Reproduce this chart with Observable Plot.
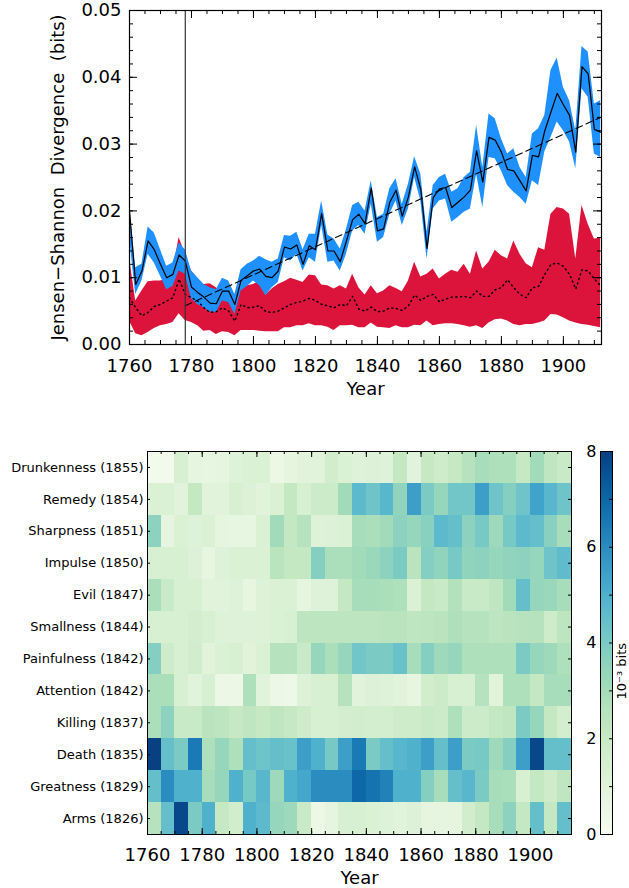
<!DOCTYPE html>
<html><head><meta charset="utf-8">
<script src="https://cdn.jsdelivr.net/npm/d3@7"></script>
<script src="https://cdn.jsdelivr.net/npm/@observablehq/plot@0.6"></script>
<style>
body{margin:0;background:#fff;}
#wrap{position:relative;width:629px;height:888px;overflow:hidden;background:#fff;}
#wrap svg{position:absolute;overflow:visible;}
</style></head><body><div id="wrap"></div>
<script>
// ---------- Top panel: Jensen-Shannon divergence (values in 10^-3 bits) ----------
const years = [
 1760,1762,1764,1766,1768,1770,1772,1774,1776,1778,
 1780,1782,1784,1786,1788,1790,1792,1794,1796,1798,
 1800,1802,1804,1806,1808,1810,1812,1814,1816,1818,
 1820,1822,1824,1826,1828,1830,1832,1834,1836,1838,
 1840,1842,1844,1846,1848,1850,1852,1854,1856,1858,
 1860,1862,1864,1866,1868,1870,1872,1874,1876,1878,
 1880,1882,1884,1886,1888,1890,1892,1894,1896,1898,
 1900,1902,1904,1906,1908,1910,1912];
const meanJSD = [
 20.0,9.0,11.0,15.5,14.2,12.0,10.0,10.5,13.4,12.5,
 8.6,7.8,7.1,6.2,6.1,8.0,8.0,6.0,9.6,10.3,
 11.0,11.3,10.2,10.0,11.0,14.6,14.3,14.9,12.0,14.8,
 14.2,19.6,14.0,14.0,12.4,15.5,18.7,19.5,18.1,23.4,
 17.0,17.3,21.3,23.1,19.2,22.1,26.6,23.2,14.4,22.0,
 23.3,23.5,20.5,21.3,22.1,23.1,29.0,24.3,31.0,30.6,
 28.8,26.2,26.0,24.5,23.0,28.3,28.1,32.0,34.8,37.6,
 35.9,34.3,28.8,41.6,40.5,32.2,31.8];
const blueHi = [
 21,11.5,12,17.6,16.7,14.2,11.7,12.2,15.2,14.2,
 11,10,9,8.5,8.2,9.9,9.5,7.5,11.2,12,
 12.5,13.2,12.7,12.3,12.8,16.3,16.2,16.8,14.2,16.5,
 16.5,21.5,16.4,15.8,14.3,17.2,20.8,21.3,20,24.5,
 19,19.5,23.3,24.8,21,24,28.1,25.5,16.8,23.8,
 25,25.5,22.8,23.3,25,25.8,32.8,26.5,34.5,33.8,
 30.8,28.5,29.3,26.5,25,31.5,32.3,34.3,41,42.9,
 38.5,36.5,32,44.6,43.8,36,36.5];
const blueLo = [
 16,7.5,9.5,13.5,12.2,10.2,8.2,8.7,11,10.5,
 6.8,6,5.5,4.9,4.8,6.5,6.3,4.5,8,8.7,
 9.5,8.8,7.3,8.5,9.3,13,12.5,13.5,11,13,
 12.3,17.8,12.3,12.5,11,13.5,17,17.8,16.5,21,
 15.3,16,19.5,21.5,17.8,20.3,25,21.5,12.8,20.3,
 21.5,21.8,18.3,19,19.8,20.3,25.5,20.5,28,27.8,
 26,23.8,22.8,22,21,24.5,23.8,28.8,31,33.3,
 32,30.3,26.3,38.3,37,28.5,28];
const redHi = [
 13,6.5,8,9.4,9.5,9.5,9.8,11,16,13.5,
 11,9.9,9,9.1,8.5,7.5,6.8,6,8.5,8.8,
 9,9.4,7.4,8.3,9,9.4,9.9,9.6,9.3,10.4,
 10.3,8.9,8.8,8.3,8.8,8.3,10.5,8.5,7.4,8.8,
 7.6,8,8.8,8.4,7.9,9.5,12.3,10.1,10.5,11.3,
 9.8,10.5,11.1,10.8,12,10.5,14,11.3,12.3,14.1,
 13.3,12.8,15.5,13.5,12.1,11.5,14.5,14.1,19.5,20.5,
 20.3,19.5,12.8,20.8,18,15.8,15.9];
const redLo = [
 3.5,1.6,1.3,1.8,2.4,2.8,3,3.3,4.6,3.6,
 3.3,2.8,2,2.1,1.5,1.9,1.8,1.3,2.1,2.1,
 2.1,2,1.9,1.9,1.9,2.5,2.5,2.8,2.8,3.1,
 2.8,2.8,2.6,2.1,2.8,2.8,2.9,2.5,2.5,3.2,
 2.6,2.5,2.4,2.8,2.5,2.5,2.9,2.8,3.5,2.8,
 3,3.1,3.1,3,2.8,2.6,2.8,2.4,3.2,3.7,
 3.8,3.5,3,2.8,3,3,3.2,3.5,4.5,4.4,
 4,3.5,3.2,3,2.9,2.7,2.5];
const nullMean = [
 7,5.5,4.3,4.8,5.7,6,6.5,7,9.8,7.5,
 7,6.5,5.5,4.8,4.9,5.5,5,3.5,6,5.5,
 5.6,5.8,4.9,4.8,5,5.5,6,6.3,6.5,6.9,
 6.6,6,5.8,5.5,6,5.8,7.2,5.3,5,5.6,
 4.9,5,5.5,5.4,5.1,5.8,7.4,6.6,7.2,7.5,
 6.4,6.8,7.1,7.1,7.2,7,8,7.2,7.2,8.2,
 8.5,9.7,8.5,7.5,7,8.5,8.7,10.5,12,12.2,
 11.7,10.5,8.3,11.2,11,9.8,8.8];
const trendYears = [1778, 1912];
const trendValues = [0.0058, 0.0340];
const changeYear = 1778;
const topXTicks = [1760,1780,1800,1820,1840,1860,1880,1900];
const topYTicks = [0,0.01,0.02,0.03,0.04,0.05];

// ---------- Bottom panel: heatmap (10^-3 bits) ----------
const rowLabels = ["Drunkenness (1855)","Remedy (1854)","Sharpness (1851)","Impulse (1850)","Evil (1847)","Smallness (1844)","Painfulness (1842)","Attention (1842)","Killing (1837)","Death (1835)","Greatness (1829)","Arms (1826)"];
const binStarts = [1760,1765,1770,1775,1780,1785,1790,1795,1800,1805,1810,1815,1820,1825,1830,1835,1840,1845,1850,1855,1860,1865,1870,1875,1880,1885,1890,1895,1900,1905,1910];
const drunkenness = [0.2,0.2,1.4,0.8,0.7,0.8,1.1,1.3,1.3,0.5,0.8,1.0,1.0,1.7,1.3,1.1,1.2,1.1,2.2,1.0,2.1,1.8,2.1,2.6,3.0,2.8,2.8,2.1,3.1,2.3,2.0];
const remedy      = [1.3,1.3,1.0,2.2,1.0,1.0,1.4,1.2,1.0,1.3,2.2,1.4,1.9,1.9,3.1,4.7,4.3,4.8,3.5,5.5,4.0,3.4,4.2,4.2,5.5,4.3,3.8,4.3,5.4,4.8,4.3];
const sharpness   = [3.6,0.8,1.3,1.1,1.3,0.8,0.7,0.7,1.3,3.1,2.2,2.6,1.1,1.2,1.3,3.0,2.9,3.1,3.6,3.4,3.7,4.7,4.5,3.6,4.1,3.2,4.1,4.7,4.5,3.7,3.0];
const impulse     = [1.4,1.4,1.4,1.2,0.7,1.1,1.3,1.3,1.3,2.5,2.2,2.2,3.8,2.9,2.9,3.1,3.3,3.6,4.0,2.5,3.8,3.5,4.1,3.5,3.6,3.4,3.5,3.6,3.4,4.3,4.6];
const evil        = [2.9,2.0,1.4,1.4,1.0,1.0,1.1,0.7,1.1,1.3,1.3,0.8,1.1,1.1,2.2,3.0,3.0,2.9,2.8,1.3,2.2,2.0,2.7,2.0,2.0,2.3,3.1,4.5,3.4,3.3,3.0];
const smallness   = [1.4,1.4,1.4,1.6,1.4,1.1,1.1,1.1,1.1,1.3,1.4,2.4,2.4,2.4,2.4,2.4,2.4,2.5,2.5,2.3,2.4,2.5,2.8,2.6,2.6,2.4,2.5,2.6,2.6,1.8,2.4];
const painfulness = [3.8,1.8,1.4,1.7,1.0,1.3,1.4,1.0,1.3,2.6,2.6,2.0,3.4,2.9,3.4,4.2,4.0,4.0,4.4,3.0,3.8,3.2,3.4,2.8,2.8,2.8,2.8,4.0,3.4,3.2,2.8];
const attention   = [2.9,2.9,1.4,1.0,1.4,0.5,0.5,2.8,1.0,0.5,0.4,1.1,1.4,1.4,2.6,1.0,1.2,1.1,1.0,0.7,1.7,1.9,1.4,1.4,2.6,1.0,2.8,2.8,2.2,3.0,3.0];
const killing     = [2.9,3.6,2.0,2.0,2.5,2.4,2.1,2.3,2.1,2.3,2.1,1.8,1.4,1.4,1.6,1.7,1.6,1.6,1.8,1.8,2.0,1.9,2.8,1.9,1.9,2.2,2.3,4.0,3.4,2.2,1.6];
const death       = [8.0,4.5,4.0,6.5,2.8,3.4,2.8,4.5,4.3,4.5,4.4,5.5,5.0,4.1,5.5,6.5,4.0,4.5,4.8,5.0,5.5,4.5,5.5,4.0,4.1,3.2,3.8,5.5,7.8,4.5,4.5];
const greatness   = [4.5,6.0,5.0,5.0,3.0,3.4,5.0,4.1,4.8,3.2,5.0,5.3,6.0,6.0,6.0,7.0,6.7,6.3,5.0,5.0,3.8,3.0,4.5,4.8,4.0,3.0,2.9,1.4,2.2,1.8,2.3];
const arms        = [2.6,4.5,7.8,4.0,5.0,2.1,1.7,5.0,4.7,3.4,3.2,2.0,0.5,0.8,1.4,1.4,1.3,1.1,1.0,1.2,0.8,0.8,0.8,1.7,2.2,3.0,3.6,2.2,4.5,2.2,4.5];
const heatXTicks = [1760,1780,1800,1820,1840,1860,1880,1900];
const colorbarTicks = [0,2,4,6,8];
const colorbarMinor = [0,1,2,3,4,5,6,7,8];

// ---------- build ----------
const FONT = "'DejaVu Sans', sans-serif";
const S = 1e-3;
const series = years.map((y, i) => ({
  year: y, mean: meanJSD[i]*S, bHi: blueHi[i]*S, bLo: blueLo[i]*S,
  rHi: redHi[i]*S, rLo: redLo[i]*S, nul: nullMean[i]*S
}));
const trend = trendYears.map((y, i) => ({year: y, value: trendValues[i]}));
const wrap = document.getElementById("wrap");

// Top panel
const TW = 629, TH = 400, TL = 129, TR = 28, TT = 10, TB = 56;
const tIW = TW - TL - TR, tIH = TH - TT - TB;
const topXMinor = d3.range(1760, 1913, 5);
const topYMinor = d3.range(0, 0.0501, 0.002);
const topPlot = Plot.plot({
  width: TW, height: TH, marginLeft: TL, marginRight: TR, marginTop: TT, marginBottom: TB,
  style: {fontFamily: FONT, fontSize: "18px", color: "black", background: "white", overflow: "visible"},
  x: {domain: [1760, 1912.3]},
  y: {domain: [0, 0.05]},
  marks: [
    Plot.areaY(series, {x: "year", y1: "rLo", y2: "rHi", fill: "#dc143c"}),
    Plot.areaY(series, {x: "year", y1: "bLo", y2: "bHi", fill: "#1e90ff"}),
    Plot.lineY(series, {x: "year", y: "nul", stroke: "black", strokeWidth: 1.4, strokeDasharray: "1.2,3.5"}),
    Plot.line(trend, {x: "year", y: "value", stroke: "black", strokeWidth: 1.1, strokeDasharray: "7,4"}),
    Plot.lineY(series, {x: "year", y: "mean", stroke: "black", strokeWidth: 1.2}),
    Plot.ruleX([changeYear], {stroke: "#333", strokeWidth: 1.2}),
    // inward ticks on all four sides
    Plot.tickX(topXMinor, {x: d => d, insetTop: tIH - 4, stroke: "black"}),
    Plot.tickX(topXMinor, {x: d => d, insetBottom: tIH - 4, stroke: "black"}),
    Plot.tickX(topXTicks, {x: d => d, insetTop: tIH - 8, stroke: "black"}),
    Plot.tickX(topXTicks, {x: d => d, insetBottom: tIH - 8, stroke: "black"}),
    Plot.tickY(topYMinor, {y: d => d, insetRight: tIW - 4, stroke: "black"}),
    Plot.tickY(topYMinor, {y: d => d, insetLeft: tIW - 4, stroke: "black"}),
    Plot.tickY(topYTicks, {y: d => d, insetRight: tIW - 8, stroke: "black"}),
    Plot.tickY(topYTicks, {y: d => d, insetLeft: tIW - 8, stroke: "black"}),
    Plot.frame({stroke: "black", strokeWidth: 1.2}),
    Plot.axisX({ticks: topXTicks, tickSize: 0, tickPadding: 15, tickFormat: d => String(d), label: null}),
    Plot.axisY({ticks: topYTicks, tickSize: 0, tickPadding: 8, tickFormat: d3.format(".2f"), label: null}),
    Plot.text(["Year"], {text: d => d, frameAnchor: "bottom", lineAnchor: "middle", dy: 45, fontSize: 18}),
    Plot.text(["Jensen\u2212Shannon  Divergence  (bits)"], {text: d => d, frameAnchor: "left", textAnchor: "middle", dx: -71, rotate: -90, fontSize: 18})
  ]
});
topPlot.style.left = "0px"; topPlot.style.top = "0px";
wrap.appendChild(topPlot);

// Heatmap
const rowsData = [drunkenness, remedy, sharpness, impulse, evil, smallness, painfulness, attention, killing, death, greatness, arms];
const cells = [];
rowsData.forEach((arr, r) => arr.forEach((v, c) => cells.push({r0: r, r1: r + 1, x1: binStarts[c], x2: binStarts[c] + 5, v})));
const HW = 629, HH = 488, HL = 147, HR = 58, HT = 51, HB = 54;
const hIW = HW - HL - HR, hIH = HH - HT - HB;
const rowCenters = rowLabels.map((d, i) => i + 0.5);
const heatPlot = Plot.plot({
  width: HW, height: HH, marginLeft: HL, marginRight: HR, marginTop: HT, marginBottom: HB,
  style: {fontFamily: FONT, fontSize: "18px", color: "black", background: "white", overflow: "visible"},
  x: {domain: [1760, 1915]},
  y: {domain: [12, 0]},
  color: {type: "linear", scheme: "GnBu", domain: [0, 8]},
  marks: [
    Plot.rect(cells, {x1: "x1", x2: "x2", y1: "r0", y2: "r1", fill: "v", shapeRendering: "crispEdges"}),
    Plot.tickX(binStarts, {x: d => d, insetTop: hIH - 3, stroke: "black"}),
    Plot.tickX(binStarts, {x: d => d, insetBottom: hIH - 3, stroke: "black"}),
    Plot.tickX(heatXTicks, {x: d => d, insetTop: hIH - 6, stroke: "black"}),
    Plot.tickX(heatXTicks, {x: d => d, insetBottom: hIH - 6, stroke: "black"}),
    Plot.tickY(rowCenters, {y: d => d, insetRight: hIW - 3, stroke: "black"}),
    Plot.tickY(rowCenters, {y: d => d, insetLeft: hIW - 3, stroke: "black"}),
    Plot.frame({stroke: "black", strokeWidth: 1}),
    Plot.text(rowLabels, {text: d => d, y: (d, i) => i + 0.5, frameAnchor: "left", textAnchor: "end", dx: -4, fontSize: 13}),
    Plot.axisX({ticks: heatXTicks, tickSize: 0, tickPadding: 14, tickFormat: d => String(d), label: null}),
    Plot.axisY({ticks: [], label: null, tickSize: 0}),
    Plot.text(["Year"], {text: d => d, frameAnchor: "bottom", lineAnchor: "middle", dy: 44, fontSize: 18})
  ]
});
heatPlot.style.left = "0px"; heatPlot.style.top = "400px";
wrap.appendChild(heatPlot);

// Colorbar
const CW = 54, CL = 25, CR = 17;
const cbar = Plot.plot({
  width: CW, height: HH, marginLeft: CL, marginRight: CR, marginTop: HT, marginBottom: HB,
  style: {fontFamily: FONT, fontSize: "16px", color: "black", background: "transparent", overflow: "visible"},
  x: {domain: [0, 1], axis: null},
  y: {domain: [0, 8]},
  color: {type: "linear", scheme: "GnBu", domain: [0, 8]},
  marks: [
    Plot.raster({fill: (x, y) => y, x1: 0, x2: 1, y1: 0, y2: 8, width: 2, height: 400}),
    Plot.tickY(colorbarMinor, {y: d => d, insetLeft: CW - CL - CR - 3, stroke: "black"}),
    Plot.frame({stroke: "black", strokeWidth: 1}),
    Plot.axisY({ticks: colorbarTicks, anchor: "left", tickSize: 0, tickPadding: 4, label: null}),
    Plot.text(["10\u207B\u00B3 bits"], {text: d => d, frameAnchor: "right", dx: 9, rotate: -90, fontSize: 13})
  ]
});
cbar.style.left = (629 - CW) + "px"; cbar.style.top = "400px";
wrap.appendChild(cbar);
</script>
</body></html>
